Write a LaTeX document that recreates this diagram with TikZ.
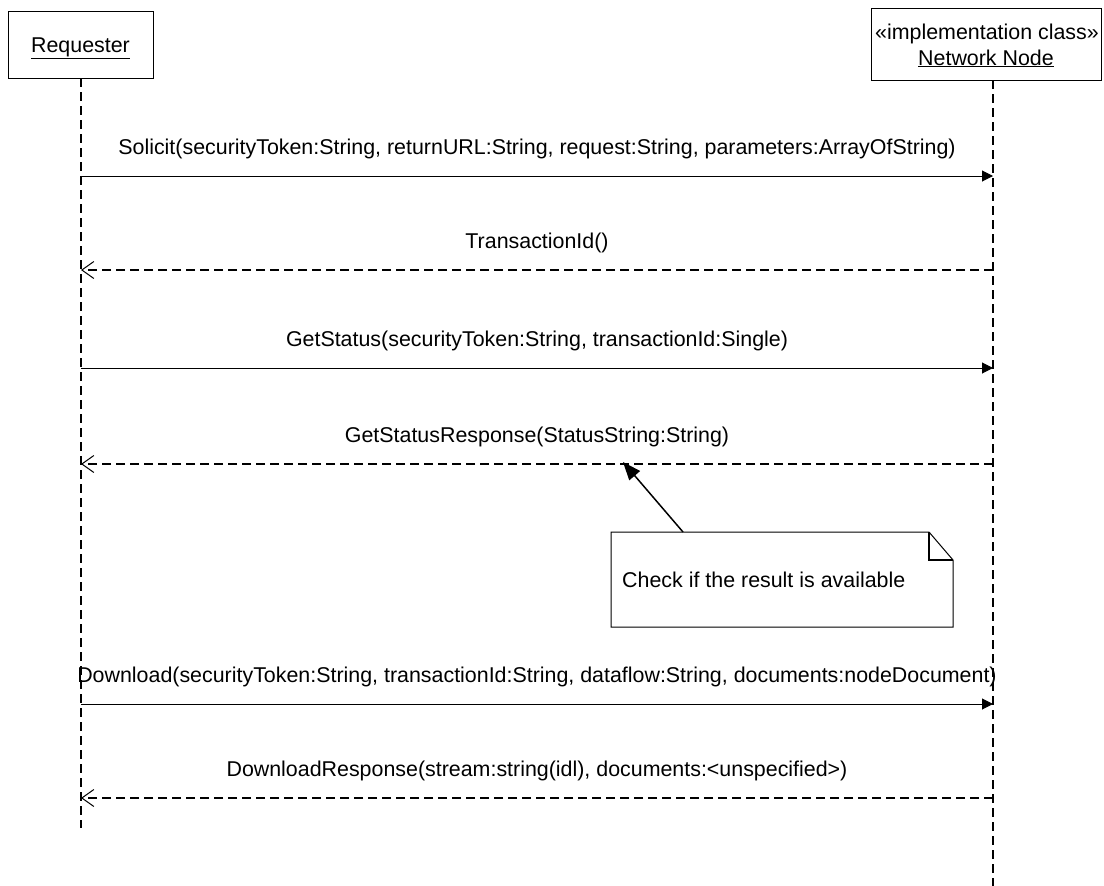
\documentclass[tikz,border=0pt]{standalone}
\usepackage{fontspec}
\setmainfont{Liberation Sans}
\usetikzlibrary{arrows.meta}
\begin{document}
\begin{tikzpicture}[x=1pt,y=-1pt,
  every node/.style={font=\fontsize{21.4}{26}\selectfont, inner sep=0pt},
  objbox/.style={draw, line width=1pt},
  lifeline/.style={line width=2pt, dash pattern=on 9pt off 5pt},
  call/.style={line width=1pt, -{Triangle[length=11pt,width=11pt]}},
  reply/.style={line width=2pt, dash pattern=on 9pt off 5pt, -{Straight Barb[length=12pt,width=17pt,line width=1pt]}},
  lbl/.style={midway, anchor=base, yshift=22pt},
  notebox/.style={draw, line width=1pt, fill=white},
  anchorline/.style={line width=1.5pt, -{Triangle[length=18pt,width=14pt]}}]
\useasboundingbox (0,0) rectangle (1104,886);

% participants
\draw[objbox] (8,11) rectangle (153,78);
\node[anchor=base] (req) at (80.5,52) {\underline{Requester}};
\draw[objbox] (871,8) rectangle (1101,80);
\node[anchor=base] (nnst) at (987,39) {«implementation class»};
\node[anchor=base] (nn) at (986,65) {\underline{Network Node}};

% lifelines
\coordinate (rtop) at (81,78);
\coordinate (rbot) at (81,828);
\coordinate (ntop) at (993,80);
\coordinate (nbot) at (993,886);
\draw[lifeline] (rtop) -- (rbot);
\draw[lifeline] (ntop) -- (nbot);

% message anchor points
\foreach \n/\y in {1/176,2/270,3/368,4/464,5/704,6/798}{
  \coordinate (r\n) at (81,\y);
  \coordinate (n\n) at (993,\y);
}

\draw[call] (r1) -- (n1) node[lbl] {Solicit(securityToken:String, returnURL:String, request:String, parameters:ArrayOfString)};
\draw[reply] (n2) -- (r2) node[lbl] {TransactionId()};
\draw[call] (r3) -- (n3) node[lbl] {GetStatus(securityToken:String, transactionId:Single)};
\draw[reply] (n4) -- (r4) node[lbl] {GetStatusResponse(StatusString:String)};
\draw[call] (r5) -- (n5) node[lbl] {Download(securityToken:String, transactionId:String, dataflow:String, documents:nodeDocument)};
\draw[reply] (n6) -- (r6) node[lbl] {DownloadResponse(stream:string(idl), documents:<unspecified>)};

% note
\draw[notebox] (611,532) -- (929,532) -- (953,560) -- (953,627) -- (611,627) -- cycle;
\draw[line width=1.5pt] (929,532) -- (929,560) -- (953,560);
\node[anchor=base west] (notetxt) at (622,587) {Check if the result is available};
\coordinate (notetop) at (683,532);
\coordinate (notetarget) at (623,462);
\draw[anchorline] (notetop) -- (notetarget);
\end{tikzpicture}
\end{document}
